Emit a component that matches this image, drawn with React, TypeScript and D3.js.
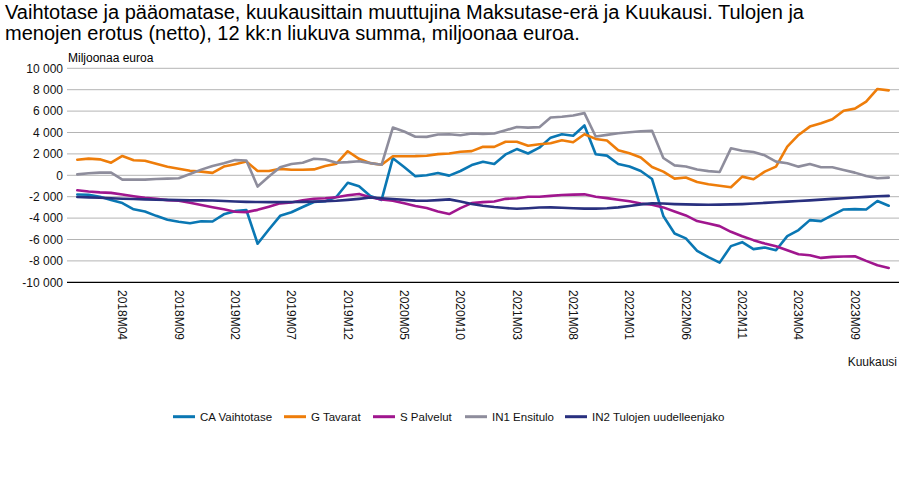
import React from "react";
import * as d3 from "d3";

// Kuukaudet 2017M12 - 2023M12
const months = [
  "2017M12",
  "2018M01", "2018M02", "2018M03", "2018M04", "2018M05", "2018M06", "2018M07", "2018M08", "2018M09", "2018M10", "2018M11", "2018M12",
  "2019M01", "2019M02", "2019M03", "2019M04", "2019M05", "2019M06", "2019M07", "2019M08", "2019M09", "2019M10", "2019M11", "2019M12",
  "2020M01", "2020M02", "2020M03", "2020M04", "2020M05", "2020M06", "2020M07", "2020M08", "2020M09", "2020M10", "2020M11", "2020M12",
  "2021M01", "2021M02", "2021M03", "2021M04", "2021M05", "2021M06", "2021M07", "2021M08", "2021M09", "2021M10", "2021M11", "2021M12",
  "2022M01", "2022M02", "2022M03", "2022M04", "2022M05", "2022M06", "2022M07", "2022M08", "2022M09", "2022M10", "2022M11", "2022M12",
  "2023M01", "2023M02", "2023M03", "2023M04", "2023M05", "2023M06", "2023M07", "2023M08", "2023M09", "2023M10", "2023M11", "2023M12",
];

// Shown x tick labels
const tickLabels = [
  "2018M04", "2018M09", "2019M02", "2019M07", "2019M12", "2020M05", "2020M10",
  "2021M03", "2021M08", "2022M01", "2022M06", "2022M11", "2023M04", "2023M09",
];

const yTicks = [-10000, -8000, -6000, -4000, -2000, 0, 2000, 4000, 6000, 8000, 10000];

const caVaihtotase = [
  -1800, -1820, -2000, -2300, -2600, -3180, -3390, -3790, -4150, -4340, -4480, -4300, -4320,
  -3650, -3350, -3240, -6400, -5070, -3790, -3450, -2960, -2500, -2420, -2000, -700,
  -1030, -1940, -2300, 1600, 770, -80, 0, 215, -30, 400, 960, 1270,
  1050, 1950, 2450, 2040, 2580, 3520, 3830, 3700, 4660, 1970, 1840, 1060,
  820, 400, -350, -3800, -5440, -5900, -7060, -7650, -8160, -6620, -6250, -6900,
  -6750, -7000, -5690, -5120, -4190, -4280, -3720, -3190, -3160, -3190, -2400, -2840,
];

const gTavarat = [
  1460, 1560, 1490, 1180, 1810, 1410, 1360, 1070, 800, 620, 430, 340, 230,
  820, 1040, 1280, 400, 400, 600, 520, 520, 550, 860, 1080, 2250,
  1540, 1140, 985, 1785, 1785, 1790, 1830, 1980, 2040, 2200, 2260, 2660,
  2660, 3130, 3130, 2755, 2900, 3000, 3280, 3090, 3840, 3400, 3250, 2340,
  2060, 1670, 780, 340, -310, -200, -620, -840, -970, -1120, -125, -370,
  340, 810, 2680, 3770, 4550, 4860, 5230, 6040, 6230, 6880, 8070, 7940,
];

const sPalvelut = [
  -1400, -1520, -1600, -1640, -1790, -1950, -2100, -2200, -2320, -2380, -2560, -2780, -2990,
  -3180, -3400, -3440, -3230, -2930, -2620, -2540, -2340, -2190, -2140, -2050, -1860,
  -1740, -2060, -2250, -2370, -2615, -2870, -3065, -3375, -3620, -3065, -2600, -2510,
  -2450, -2200, -2140, -2010, -2000, -1920, -1840, -1810, -1780, -2000, -2130, -2280,
  -2420, -2640, -2750, -3000, -3380, -3750, -4280, -4500, -4750, -5280, -5690, -6060,
  -6375, -6625, -7000, -7375, -7470, -7720, -7625, -7590, -7560, -8000, -8400, -8660,
];

const in1Ensitulo = [
  90, 190, 250, 250, -400, -400, -400, -340, -310, -280, 125, 530, 875,
  1125, 1420, 1390, -1050, -120, 760, 1060, 1170, 1540, 1480, 1170, 1230,
  1320, 1140, 985, 4460, 4090, 3600, 3590, 3810, 3840, 3750, 3900, 3870,
  3900, 4210, 4520, 4460, 4500, 5400, 5470, 5590, 5810, 3625, 3780, 3930,
  4020, 4120, 4160, 1620, 930, 820, 540, 390, 310, 2520, 2300, 2180,
  1870, 1280, 1120, 810, 1060, 750, 750, 500, 250, -60, -280, -220,
];

const in2Tulojen = [
  -2030, -2060, -2100, -2150, -2190, -2220, -2250, -2280, -2300, -2320, -2340, -2340, -2360,
  -2400, -2450, -2480, -2500, -2510, -2510, -2500, -2480, -2460, -2430, -2380, -2300,
  -2200, -2080, -2150, -2220, -2300, -2370, -2380, -2320, -2250, -2450, -2690, -2850,
  -2970, -3060, -3130, -3080, -3010, -3000, -3030, -3080, -3110, -3110, -3080, -3000,
  -2870, -2720, -2620, -2640, -2690, -2720, -2740, -2750, -2740, -2720, -2690, -2640,
  -2580, -2520, -2460, -2400, -2340, -2270, -2200, -2140, -2080, -2020, -1960, -1920,
];

const seriesNames = [
  "CA Vaihtotase",
  "G Tavarat",
  "S Palvelut",
  "IN1 Ensitulo",
  "IN2 Tulojen uudelleenjako",
];
const seriesValues = [caVaihtotase, gTavarat, sPalvelut, in1Ensitulo, in2Tulojen];
const seriesColors = ["#0a77b3", "#ee7d0a", "#a0168e", "#8e8d9c", "#29307f"];

// legend item start x (line sample start)
const legendX = [173, 284, 373, 465, 565];

const FONT = "'Liberation Sans', Arial, sans-serif";

export default function App() {
  const width = 900;
  const height = 500;
  const plot = { left: 67, right: 899, top: 68.3, bottom: 282.3 };

  const x = d3
    .scalePoint<string>()
    .domain(months)
    .range([77.3, 888.7]);

  const y = d3
    .scaleLinear()
    .domain([-10000, 10000])
    .range([plot.bottom, plot.top]);

  const line = d3
    .line<number>()
    .x((_, i) => x(months[i]) as number)
    .y((d) => y(d));

  const fmt = (v: number) => d3.format(",")(v).replace(/,/g, " ").replace("−", "-");

  return (
    <svg
      width={width}
      height={height}
      style={{ position: "absolute", left: 0, top: 0, background: "#fff" }}
      fontFamily={FONT}
    >
      {/* Otsikko */}
      <text x={5} y={18.5} fontSize={20} fill="#000">
        Vaihtotase ja pääomatase, kuukausittain muuttujina Maksutase-erä ja Kuukausi. Tulojen ja
      </text>
      <text x={5} y={40} fontSize={20} fill="#000">
        menojen erotus (netto), 12 kk:n liukuva summa, miljoonaa euroa.
      </text>

      <text x={68} y={62} fontSize={12} fill="#000">
        Miljoonaa euroa
      </text>

      {/* Gridlines + y labels */}
      {yTicks.map((t) => (
        <g key={t}>
          {t !== -10000 && (
            <line
              x1={plot.left}
              x2={plot.right}
              y1={y(t)}
              y2={y(t)}
              stroke="#b4b4b4"
              strokeWidth={1}
            />
          )}
          <text
            x={63}
            y={y(t)}
            dy="0.35em"
            textAnchor="end"
            fontSize={12}
            fill="#111"
          >
            {fmt(t)}
          </text>
        </g>
      ))}

      {/* Series */}
      {seriesValues.map((vals, k) => (
        <path
          key={seriesNames[k]}
          d={line(vals) || ""}
          fill="none"
          stroke={seriesColors[k]}
          strokeWidth={2.6}
          strokeLinejoin="round"
          strokeLinecap="round"
        />
      ))}

      {/* x-akseli */}
      <line
        x1={plot.left}
        x2={plot.right}
        y1={y(-10000)}
        y2={y(-10000)}
        stroke="#000"
        strokeWidth={1.2}
      />
      {tickLabels.map((lab) => (
        <text
          key={lab}
          transform={`translate(${x(lab)},290) rotate(90)`}
          dy="0.35em"
          fontSize={12}
          fill="#111"
        >
          {lab}
        </text>
      ))}
      <text x={897} y={366} textAnchor="end" fontSize={12} fill="#111">
        Kuukausi
      </text>

      {/* Legend */}
      {seriesNames.map((name, k) => (
        <g key={name}>
          <line
            x1={legendX[k]}
            x2={legendX[k] + 22}
            y1={416.7}
            y2={416.7}
            stroke={seriesColors[k]}
            strokeWidth={3}
          />
          <text x={legendX[k] + 27} y={420.7} fontSize={11.5} fill="#111">
            {name}
          </text>
        </g>
      ))}
    </svg>
  );
}
